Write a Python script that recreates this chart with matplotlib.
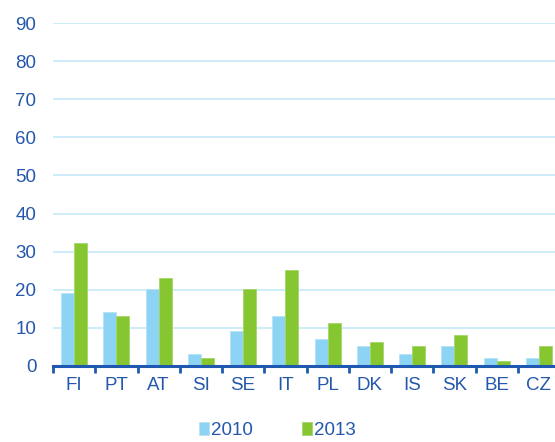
import numpy as np
import matplotlib.pyplot as plt

plt.rcParams['font.family'] = ['Liberation Sans', 'DejaVu Sans']

countries = ['FI', 'PT', 'AT', 'SI', 'SE', 'IT', 'PL', 'DK', 'IS', 'SK', 'BE', 'CZ']
y2010 = [19.2, 14.2, 20.2, 3.2, 9.2, 13.2, 7.2, 5.2, 3.2, 5.2, 2.2, 2.2]
y2013 = [32.2, 13.2, 23.2, 2.2, 20.2, 25.2, 11.2, 6.2, 5.2, 8.2, 1.2, 5.2]

blue_txt = '#2458ab'
c2010 = '#8dd3f3'
c2013 = '#86c631'

fig = plt.figure(figsize=(5.55, 4.42), dpi=100)
ax = fig.add_axes([53/555, 76/442, 507/555, 343/442])

x = np.arange(len(countries))
w = 0.31
ax.bar(x - w/2, y2010, w, color=c2010, edgecolor='#b5e3f7', linewidth=0.6, label='2010', zorder=3)
ax.bar(x + w/2, y2013, w, color=c2013, edgecolor='#a5d66a', linewidth=0.6, label='2013', zorder=3)

ax.set_xlim(-0.5, len(countries) - 0.5)
ax.set_ylim(0, 90)
ax.set_yticks(range(0, 91, 10))
ax.yaxis.grid(True, color='#c4eaf8', linewidth=1.2, zorder=0)
ax.set_axisbelow(True)

for s in ['top', 'right', 'left']:
    ax.spines[s].set_visible(False)
ax.spines['bottom'].set_color('#1f58b0')
ax.spines['bottom'].set_linewidth(2.2)
ax.spines['bottom'].set_zorder(4)

ax.set_xticks(x)
ax.set_xticklabels(countries)
ax.set_xticks(np.arange(-0.5, len(countries), 1), minor=True)
ax.tick_params(axis='x', which='major', length=0, pad=8, labelsize=13.5, labelcolor=blue_txt)
ax.tick_params(axis='x', which='minor', length=5, width=2, color='#1f58b0', direction='out')
ax.tick_params(axis='y', length=0, pad=12, labelsize=13.5, labelcolor=blue_txt)

fig.legend(loc='lower center', bbox_to_anchor=(0.5, -0.032), ncol=2, frameon=False,
           handlelength=0.55, handleheight=0.7, handletextpad=0.1, columnspacing=2.6,
           fontsize=13.5, labelcolor=blue_txt)

fig.savefig('out.png', dpi=100)
